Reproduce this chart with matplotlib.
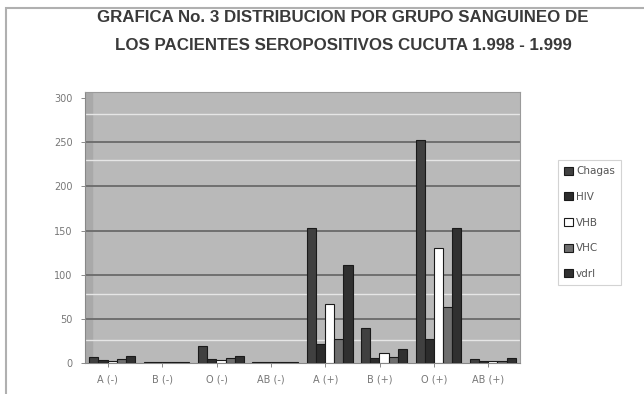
import numpy as np
import matplotlib
matplotlib.use("Agg")
import matplotlib.pyplot as plt
from matplotlib.patches import Rectangle

grupos = ["A (-)", "B (-)", "O (-)", "AB (-)", "A (+)", "B (+)", "O (+)", "AB (+)"]
series = ["Chagas", "HIV", "VHB", "VHC", "vdrl"]

chagas = [7, 1, 19, 1, 153, 40, 253, 5]
hiv = [3, 1, 5, 1, 22, 6, 27, 2]
vhb = [2, 1, 3, 1, 67, 11, 130, 2]
vhc = [4, 1, 6, 1, 27, 7, 63, 2]
vdrl = [8, 1, 8, 1, 111, 16, 153, 6]

yticks = [0, 50, 100, 150, 200, 250, 300]
back_lines = [26, 78, 230, 282]

colores = ["#404040", "#2c2c2c", "#ffffff", "#6e6e6e", "#303030"]

fig = plt.figure(figsize=(6.44, 3.94), dpi=100)
fig.patch.set_facecolor("white")
fig.patches.append(Rectangle((6 / 644, -0.1), 1.1, 1.1 - 8 / 394,
                             transform=fig.transFigure, fill=False,
                             edgecolor="#b0b0b0", linewidth=1.5))

ax = fig.add_axes([85 / 644, 31 / 394, 435 / 644, 271 / 394])
ax.set_facecolor("#b9b9b9")

x = np.arange(len(grupos))
ancho = 0.168
for i, (nombre, vals) in enumerate(zip(series, [chagas, hiv, vhb, vhc, vdrl])):
    ax.bar(x + (i - 2) * ancho, vals, ancho, color=colores[i], edgecolor="#1a1a1a",
           linewidth=0.8, label=nombre, zorder=3)

for v in yticks[1:-1]:
    ax.axhline(v, color="#6a6a6a", linewidth=1.3, zorder=1)
for v in back_lines:
    ax.axhline(v, color="#e6e6e6", linewidth=1.0, zorder=1)
ax.axvspan(-0.5, -0.38, color="#a9a9a9", zorder=0.5)

ax.set_xlim(-0.5, 7.5)
ax.set_ylim(0, 307)
ax.set_yticks(yticks)
ax.set_xticks(x - 0.08)
ax.set_xticklabels(grupos)
ax.tick_params(axis="both", labelsize=7, colors="#777777", length=3, width=0.6)
ax.tick_params(axis="x", pad=5)
ax.tick_params(axis="y", pad=6)
for s in ["top", "right"]:
    ax.spines[s].set_color("#9a9a9a")
ax.spines["left"].set_color("#888888")
ax.spines["bottom"].set_color("#888888")

titulo = ["GRAFICA No. 3 DISTRIBUCION POR GRUPO SANGUINEO DE",
          "LOS PACIENTES SEROPOSITIVOS CUCUTA 1.998 - 1.999"]
for k, linea in enumerate(titulo):
    fig.text(343 / 644, 1 - (18 + 27 * k) / 394, linea,
             ha="center", va="center", fontsize=12.2, fontweight="bold", color="#3a3a3a",
             family="Liberation Sans")

leg = fig.legend(loc="upper left", bbox_to_anchor=(553 / 644, 1 - 155 / 394),
                 fontsize=7.5, frameon=True, handlelength=0.8, handleheight=0.8,
                 handletextpad=0.3, labelspacing=1.5, borderpad=0.6,
                 fancybox=False, labelcolor="#555555")
leg.get_frame().set_edgecolor("#c8c8c8")
leg.get_frame().set_linewidth(0.8)

fig.savefig("out.png", dpi=100)
